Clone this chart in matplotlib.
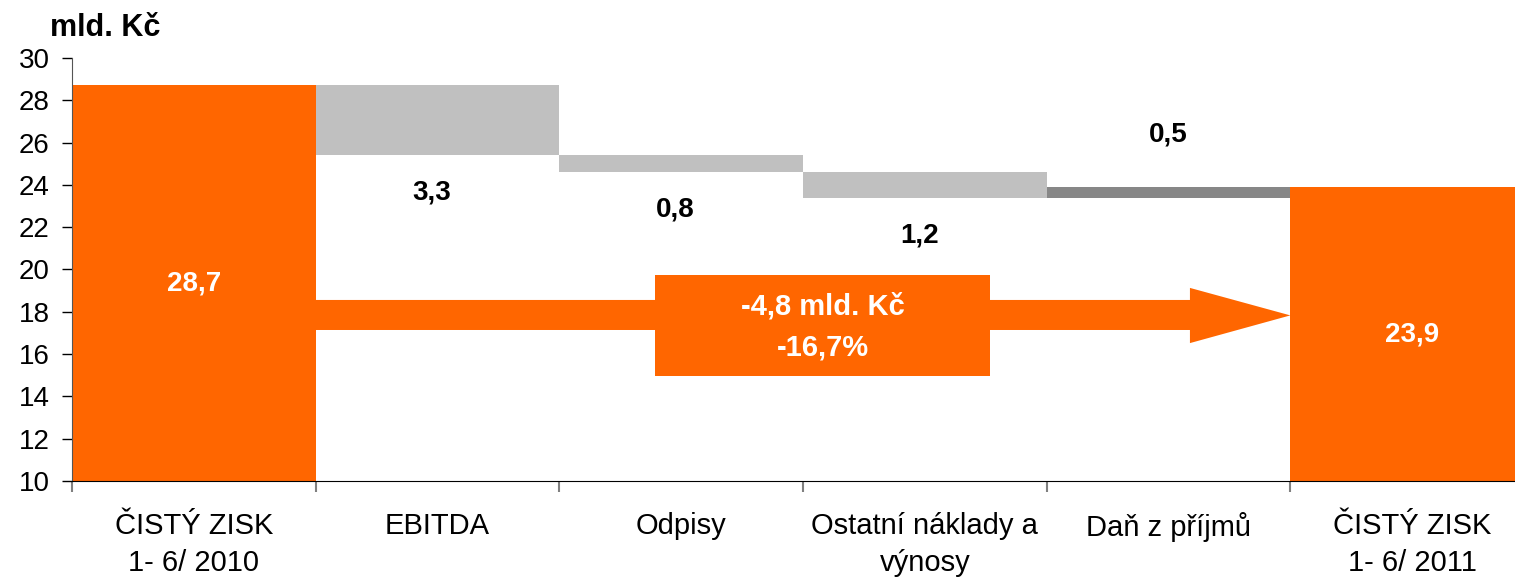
import numpy as np
import matplotlib
matplotlib.use("Agg")
import matplotlib.pyplot as plt
from matplotlib.patches import Polygon, Rectangle

plt.rcParams['font.family'] = ['Liberation Sans', 'DejaVu Sans']

# data (mld. Kč)
categories = ["ČISTÝ ZISK\n1- 6/ 2010", "EBITDA", "Odpisy",
              "Ostatní náklady a\nvýnosy", "Daň z příjmů", "ČISTÝ ZISK\n1- 6/ 2011"]
start_value = 28.7
changes = [-3.3, -0.8, -1.2, 0.5]
end_value = 23.9
change_labels = ["3,3", "0,8", "1,2", "0,5"]
total_labels = ["28,7", "23,9"]
yticks = [10, 12, 14, 16, 18, 20, 22, 24, 26, 28, 30]

ORANGE = '#FF6600'
LIGHT = '#C0C0C0'
DARK = '#878787'

fig = plt.figure(figsize=(15.15, 5.79), dpi=100)
W, H = 1515.0, 579.0
# axes runs a bit past the right edge, like the original cut
ax = fig.add_axes([72 / W, (H - 481) / H, 1462 / W, (481 - 58) / H])

ymin = 10
x = np.arange(len(categories)) + 0.5

# total bars
ax.bar([x[0], x[-1]], [start_value - ymin, end_value - ymin], bottom=ymin,
       width=1.0, color=ORANGE, zorder=2)

# steps
level = start_value
for i, ch in enumerate(changes):
    lo, hi = min(level, level + ch), max(level, level + ch)
    ax.bar(x[i + 1], hi - lo, bottom=lo, width=1.0,
           color=DARK if ch > 0 else LIGHT, zorder=2)
    if ch < 0:
        ax.annotate(change_labels[i], (x[i + 1], lo), xytext=(-4, -27),
                    textcoords='offset points', ha='center', va='center',
                    fontsize=20, fontweight='bold')
    else:
        ax.annotate(change_labels[i], (x[i + 1], hi), xytext=(0, 38),
                    textcoords='offset points', ha='center', va='center',
                    fontsize=20, fontweight='bold')
    level += ch

ax.text(x[0], (start_value + ymin) / 2, total_labels[0], ha='center', va='center',
        color='white', fontsize=20, fontweight='bold', zorder=3)
ax.text(x[-1], (end_value + ymin) / 2, total_labels[1], ha='center', va='center',
        color='white', fontsize=20, fontweight='bold', zorder=3)

# big arrow from first bar to last bar
x0, x1 = 1.0, 5.0
head = x1 - 0.412
arrow = Polygon([(x0, 17.14), (head, 17.14), (head, 16.52), (x1, 17.83),
                 (head, 19.13), (head, 18.56), (x0, 18.56)],
                closed=True, color=ORANGE, lw=0, zorder=2)
ax.add_patch(arrow)
ax.add_patch(Rectangle((2.393, 14.96), 1.374, 4.79, color=ORANGE, lw=0, zorder=2))
diff = end_value - start_value
pct = diff / start_value * 100
box_txt = "%s mld. Kč\n%s%%" % (("%.1f" % diff).replace('.', ','),
                               ("%.1f" % pct).replace('.', ','))
ax.text(3.08, 17.3, box_txt, ha='center', va='center', color='white',
        fontsize=21, fontweight='bold', linespacing=1.6, zorder=3)

ax.set_xlim(0, 6)
ax.set_ylim(10, 30)
ax.set_yticks(yticks)
ax.tick_params(axis='y', direction='out', length=7, width=1, labelsize=20, pad=9)

ax.set_xticks(np.arange(0, 7))
ax.set_xticklabels([])
ax.set_xticks(x, minor=True)
ax.set_xticklabels(categories, minor=True, fontsize=21, linespacing=1.45)
ax.tick_params(axis='x', which='major', direction='out', length=8, width=1.5, color='#808080')
ax.tick_params(axis='x', which='minor', length=0, pad=22)

for s in ['top', 'right']:
    ax.spines[s].set_visible(False)
ax.spines['left'].set_color('#555555')

fig.text(50 / W, 1 - 28 / H, "mld. Kč", ha='left', va='center',
         fontsize=22, fontweight='bold')

fig.savefig('out.png', dpi=100)
